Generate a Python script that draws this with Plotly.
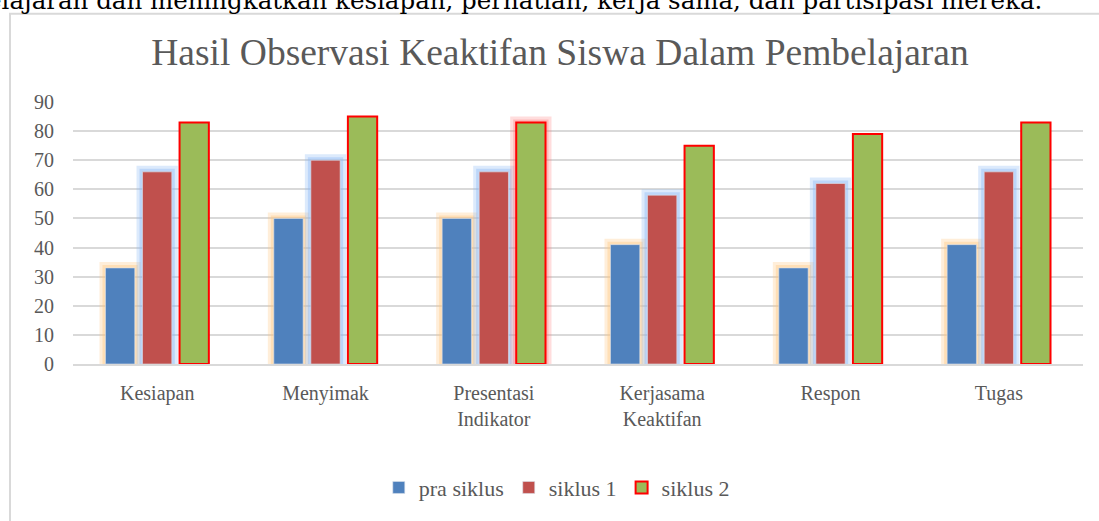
import plotly.graph_objects as go

categories = ["Kesiapan", "Menyimak", "Presentasi<br>Indikator", "Kerjasama<br>Keaktifan", "Respon", "Tugas"]
pra_siklus = [33, 50, 50, 41, 33, 41]
siklus_1 = [66, 70, 66, 58, 62, 66]
siklus_2 = [83, 85, 83, 75, 79, 83]
siklus_2_glow = [False, False, True, False, False, False]

title_text = "Hasil Observasi Keaktifan Siswa Dalam Pembelajaran"
top_text = "pembelajaran dan meningkatkan kesiapan, perhatian, kerja sama, dan partisipasi mereka."

W, H = 1099, 521
L, R, T, B = 73, 16, 102, 152
PW, PH = W - L - R, H - T - B

def px_x(px):
    return (px - L) / PW

def px_y(py):
    return (H - B - py) / PH

bw = 0.174
offs = [-0.307, -0.087, 0.133]
serif = "Liberation Serif, Times New Roman, serif"
gray = "#595959"

fig = go.Figure()

# glow layers
def glow(y, off, color_outer, color_inner, per_point=None):
    for lw, col in ((12, color_outer), (6, color_inner)):
        if per_point is not None:
            cols = [col if p else "rgba(0,0,0,0)" for p in per_point]
        else:
            cols = col
        fig.add_trace(go.Bar(
            x=categories, y=y, width=bw, offset=off,
            marker=dict(color="rgba(0,0,0,0)", line=dict(color=cols, width=lw)),
            showlegend=False, hoverinfo="skip"))

glow(pra_siklus, offs[0], "rgba(255,200,130,0.30)", "rgba(255,200,130,0.40)")
glow(siklus_1, offs[1], "rgba(140,185,245,0.30)", "rgba(140,185,245,0.40)")
glow(siklus_2, offs[2], "rgba(255,120,120,0.25)", "rgba(255,120,120,0.35)", siklus_2_glow)

fig.add_trace(go.Bar(x=categories, y=pra_siklus, width=bw, offset=offs[0], name="pra siklus",
                     marker=dict(color="#4f81bd", line=dict(color="rgba(220,225,235,0.6)", width=1))))
fig.add_trace(go.Bar(x=categories, y=siklus_1, width=bw, offset=offs[1], name="siklus 1",
                     marker=dict(color="#c0504d", line=dict(color="rgba(220,225,235,0.6)", width=1))))
fig.add_trace(go.Bar(x=categories, y=siklus_2, width=bw, offset=offs[2], name="siklus 2",
                     marker=dict(color="#9bbb59", line=dict(color="#ff0000", width=2))))

fig.update_layout(
    width=W, height=H,
    margin=dict(l=L, r=R, t=T, b=B),
    barmode="overlay",
    paper_bgcolor="white", plot_bgcolor="white",
    font=dict(family=serif, color=gray, size=20),
    title=dict(text=title_text, x=560 / W, xanchor="center", y=1 - 52 / H, yanchor="middle",
               font=dict(family=serif, size=37.5, color=gray)),
    legend=dict(orientation="h", x=0.479, xanchor="center", y=px_y(495), yanchor="middle",
                font=dict(family=serif, size=22, color=gray), itemwidth=30, traceorder="normal"),
    xaxis=dict(showgrid=False, showline=True, linecolor="#d9d9d9", linewidth=1.5,
               ticks="", tickfont=dict(family=serif, size=20, color=gray), ticklabelstandoff=10),
    yaxis=dict(range=[0, 90], dtick=10, showgrid=True, gridcolor="#d9d9d9", gridwidth=1.5,
               zeroline=False, showline=False, ticks="",
               tickfont=dict(family=serif, size=20, color=gray), ticklabelstandoff=18),
    shapes=[dict(type="rect", xref="paper", yref="paper",
                 x0=px_x(10), x1=px_x(1110), y0=px_y(540), y1=px_y(12),
                 line=dict(color="#d9d9d9", width=2), fillcolor="rgba(0,0,0,0)", layer="above")],
    annotations=[dict(text=top_text, xref="paper", yref="paper", x=px_x(1044), y=px_y(15),
                      xanchor="right", yanchor="bottom", showarrow=False,
                      font=dict(family="DejaVu Serif, serif", size=24.5, color="black"))],
)

fig.write_html("out.html", config={"displayModeBar": False},
               post_script="document.body.style.margin='0';")
